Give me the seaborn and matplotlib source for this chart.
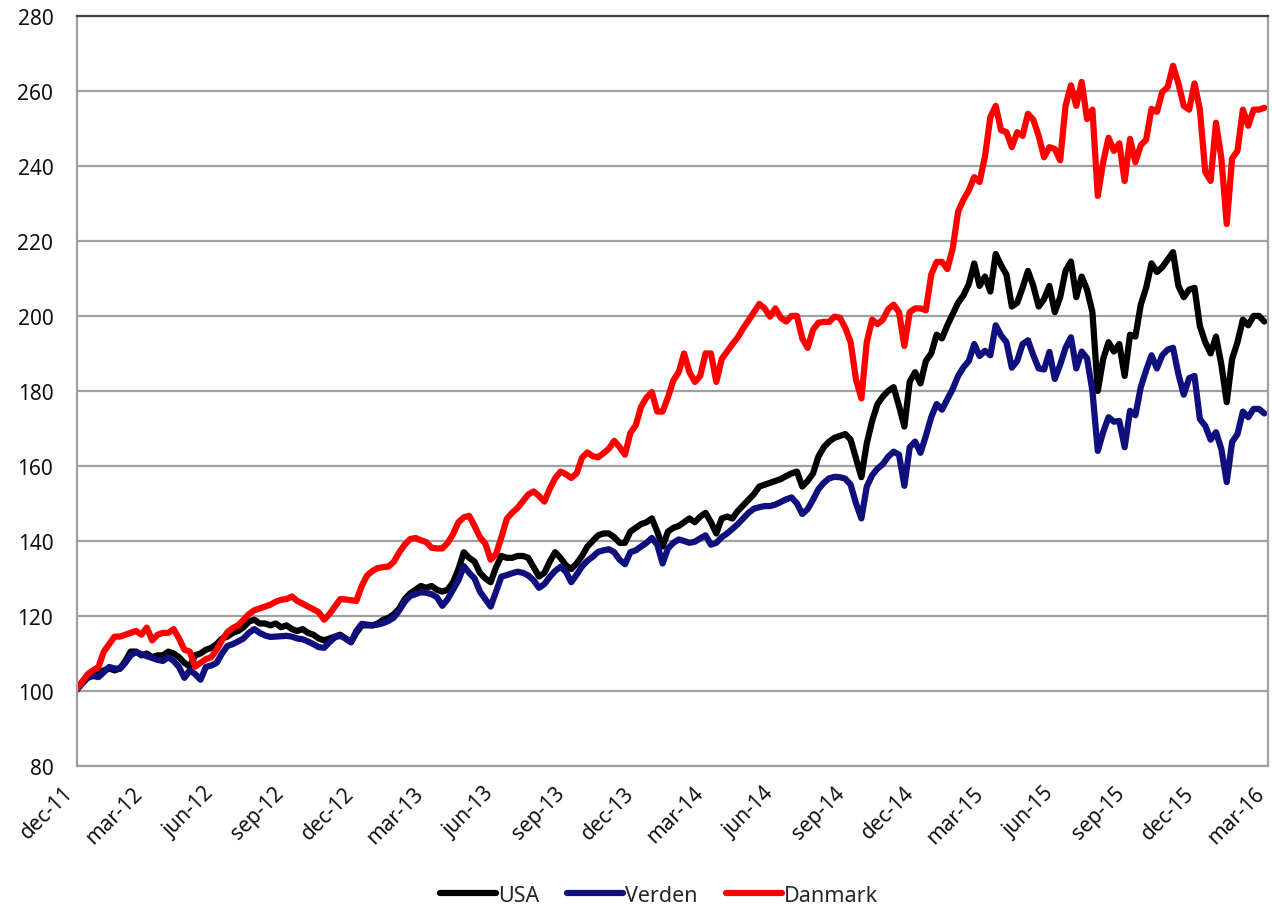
import pandas as pd
import seaborn as sns
import matplotlib.pyplot as plt
import matplotlib.transforms as mtransforms

# weekly index values, start dec-11 = 100
dates = pd.date_range('2011-12-01', periods=222, freq='7D')

usa = [100.5, 102.5, 104, 104, 104.5, 105.5, 106, 105.5, 106, 108,
       110.5, 110.5, 109.5, 110, 109, 109.5, 109.5, 110.5, 110, 109,
       107.5, 106.5, 109.5, 110, 111, 111.5, 112.5, 114, 114.5, 115.5,
       116, 117, 118.5, 119, 118, 118, 117.5, 118, 117, 117.5,
       116.5, 116, 116.5, 115.5, 115, 114, 113.5, 114, 114.5, 115,
       114, 113, 115.5, 117.5, 117.5, 117.5, 118, 119, 119.5, 120.5,
       122, 124.5, 126, 127, 128, 127.5, 128, 127, 126.5, 127,
       129, 132.5, 137, 135.5, 134.5, 131.5, 130, 129, 133, 136,
       135.5, 135.5, 136, 136, 135.5, 133, 130.5, 131.5, 134.5, 137,
       135.5, 133.5, 132.5, 134, 136, 138.5, 140, 141.5, 142, 142,
       141, 139.5, 139.5, 142.5, 143.5, 144.5, 145, 146, 142.5, 138.5,
       142.5, 143.5, 144, 145, 146, 145, 146.5, 147.5, 145, 142,
       146, 146.5, 146, 148, 149.5, 151, 152.5, 154.5, 155, 155.5,
       156, 156.5, 157.3, 158, 158.5, 154.5, 156, 158, 162.5, 165,
       166.5, 167.5, 168, 168.5, 167, 162, 157, 166, 172, 176.5,
       178.5, 180, 181, 176, 170.5, 182.5, 185, 182, 188, 190,
       195, 194, 197.5, 200.5, 203.5, 205.5, 208.5, 214, 208, 210.5,
       206.5, 216.5, 213.5, 211, 202.5, 203.5, 207.5, 212, 208, 202.5,
       204.5, 208, 201, 205, 212, 214.5, 205, 210.5, 207, 201,
       180, 188.5, 193, 190.5, 192.5, 184, 195, 194.5, 203, 207.5,
       214, 211.7, 213, 215, 217, 208, 205, 207, 207.5, 197.3,
       193, 190, 194.5, 187, 177, 188.5, 193, 199, 197.5, 200,
       200, 198.5]

verden = [100.3, 102, 103.5, 104, 103.7, 105, 106.4, 106, 105.9, 107.5,
          109.5, 110.4, 109.8, 109.3, 108.8, 108.3, 108, 109, 108, 106.4,
          103.5, 105.5, 104.5, 103, 106.4, 106.8, 107.5, 110, 112, 112.5,
          113.2, 114, 115.5, 116.5, 115.5, 114.8, 114.4, 114.5, 114.6, 114.7,
          114.5, 114, 113.8, 113.2, 112.5, 111.7, 111.5, 113, 114.3, 114.7,
          114, 113, 116, 117.9, 117.7, 117.5, 117.7, 118.1, 118.7, 119.6,
          121.5, 123.8, 125.3, 125.8, 126.3, 126.2, 125.8, 125, 122.7, 124.5,
          127, 129.5, 133.3, 131.5, 130, 126.5, 124.5, 122.5, 126.5, 130.5,
          130.9, 131.4, 131.8, 131.5, 130.8, 129.5, 127.5, 128.5, 130.4, 132,
          133.1, 131.8, 129, 131, 133.2, 134.7, 135.8, 137.1, 137.5, 137.8,
          137, 135, 133.8, 137, 137.5, 138.5, 139.5, 140.8, 139, 134,
          138, 139.5, 140.4, 140, 139.5, 139.8, 140.7, 141.5, 139, 139.5,
          141, 142, 143.2, 144.5, 146, 147.5, 148.6, 149, 149.3, 149.3,
          149.7, 150.4, 151.1, 151.6, 150, 147.2, 148.5, 151, 153.8, 155.5,
          156.7, 157.1, 157, 156.6, 155, 150, 146, 154.5, 157.5, 159.3,
          160.5, 162.5, 163.8, 163, 154.7, 165, 166.5, 163.5, 168, 173,
          176.5, 175, 177.8, 180.5, 184, 186.3, 188, 192.5, 189.3, 190.7,
          189.5, 197.5, 194.8, 193, 186.2, 188, 192.5, 193.5, 189.5, 186,
          185.7, 190.4, 183.2, 187, 191.5, 194.3, 186, 190.5, 188.7, 180,
          164, 169, 173, 171.8, 172, 165, 174.7, 173.5, 181, 185.5,
          189.5, 186, 189.5, 191, 191.5, 184.5, 179, 183.4, 184, 172.5,
          170.7, 167, 169, 164.5, 155.7, 166.4, 168.5, 174.5, 173, 175.2,
          175.2, 174]

danmark = [100.6, 102.5, 104.5, 105.5, 106.4, 110.5, 112.5, 114.5, 114.5, 115,
           115.5, 116, 115, 116.9, 113.5, 115, 115.5, 115.5, 116.5, 114,
           111, 110.5, 106.5, 107.5, 108.5, 109, 111, 113.5, 115.7, 116.8,
           117.5, 119, 120.5, 121.5, 122, 122.5, 123, 123.8, 124.3, 124.5,
           125.2, 124, 123.3, 122.5, 121.8, 121, 119, 120.5, 122.5, 124.5,
           124.4, 124.2, 124, 128, 130.8, 132, 132.8, 133, 133.2, 134.5,
           137, 139, 140.5, 140.8, 140.2, 139.7, 138.2, 138, 138, 139.5,
           141.8, 145, 146.3, 146.7, 144, 141, 139.3, 135, 136.5, 141,
           145.9, 147.5, 148.8, 150.6, 152.4, 153.2, 152, 150.5, 153.9, 156.7,
           158.5, 157.8, 156.8, 158, 162.2, 163.6, 162.6, 162.3, 163.4, 164.6,
           166.7, 165, 163, 168.8, 170.8, 175.8, 178.2, 179.7, 174.5, 174.5,
           178.3, 182.8, 185, 190, 185, 182.4, 184, 190, 190, 182.4,
           188.5, 190.5, 192.5, 194.3, 196.7, 198.8, 201, 203.2, 202, 199.8,
           202, 199.5, 198.5, 200, 200, 194, 191.5, 196.3, 198.2, 198.4,
           198.4, 199.8, 199.5, 196.8, 193, 183, 178, 193, 199, 197.8,
           199, 201.8, 203, 201, 192, 201, 202, 202, 201.5, 211,
           214.4, 214.4, 212.5, 218, 227.8, 231, 233.5, 237, 235.7, 242.5,
           253, 256, 249.5, 249, 245, 249, 248, 253.9, 252.3, 248,
           242.3, 245, 244.5, 241.5, 256, 261.5, 256, 262.4, 252.5, 255,
           232, 241, 247.5, 244, 246, 236, 247.2, 241, 245.5, 247,
           255.2, 254.4, 259.7, 261, 266.7, 262, 256, 255, 262, 255,
           238.4, 236, 251.5, 242, 224.5, 242, 244, 255, 250.7, 255,
           255, 255.5]

series = ['USA', 'Verden', 'Danmark']
colors = {'USA': '#000000', 'Verden': '#0f0f7d', 'Danmark': '#ff0000'}

tick_dates = pd.date_range('2011-12-01', '2016-03-01', freq='3MS')
tick_labels = ['dec-11', 'mar-12', 'jun-12', 'sep-12', 'dec-12', 'mar-13',
               'jun-13', 'sep-13', 'dec-13', 'mar-14', 'jun-14', 'sep-14',
               'dec-14', 'mar-15', 'jun-15', 'sep-15', 'dec-15', 'mar-16']

df = pd.concat([
    pd.DataFrame({'Dato': dates, 'Indeks': usa, 'Serie': 'USA'}),
    pd.DataFrame({'Dato': dates, 'Indeks': verden, 'Serie': 'Verden'}),
    pd.DataFrame({'Dato': dates, 'Indeks': danmark, 'Serie': 'Danmark'}),
])

sns.set_style('white')
plt.rcParams['font.family'] = ['Noto Sans', 'DejaVu Sans']

fig = plt.figure(figsize=(12.72, 9.12), dpi=100)
ax = fig.add_axes([0.0605, 0.159, 0.9365, 0.8225])

ax.yaxis.grid(True, color='#a0a0a0', lw=1.6)
ax.set_axisbelow(True)

sns.lineplot(data=df, x='Dato', y='Indeks', hue='Serie', hue_order=series,
             palette=colors, lw=4.5, ax=ax, legend=False)

ax.set_xlim(pd.Timestamp('2011-12-01'), pd.Timestamp('2016-03-01'))
ax.set_ylim(80, 280)
ax.set_yticks(range(80, 281, 20))
ax.set_xticks(tick_dates)
ax.set_xticklabels(tick_labels, rotation=45, ha='right', va='center',
                   rotation_mode='anchor')
ax.tick_params(axis='both', labelsize=15, length=0, colors='#111111')
ax.tick_params(axis='x', pad=17)
ax.tick_params(axis='y', pad=17)
ax.set_xlabel('')
ax.set_ylabel('')

# nudge rotated labels left so the last one stays inside the figure
shift = mtransforms.ScaledTranslation(-5 / 72, 0, fig.dpi_scale_trans)
for lab in ax.get_xticklabels():
    lab.set_transform(lab.get_transform() + shift)

for side in ['left', 'bottom', 'right']:
    ax.spines[side].set_color('#a0a0a0')
    ax.spines[side].set_linewidth(1.6)
ax.spines['top'].set_color('#404040')
ax.spines['top'].set_linewidth(1.6)

handles = [plt.Line2D([], [], color=colors[s], lw=4.5, solid_capstyle='round')
           for s in series]
fig.legend(handles, series, loc='center', bbox_to_anchor=(0.518, 0.017),
           ncol=3, frameon=False, fontsize=15.5, handlelength=2.6,
           handletextpad=0.1, columnspacing=1.3)

fig.savefig('out.png', dpi=100)
